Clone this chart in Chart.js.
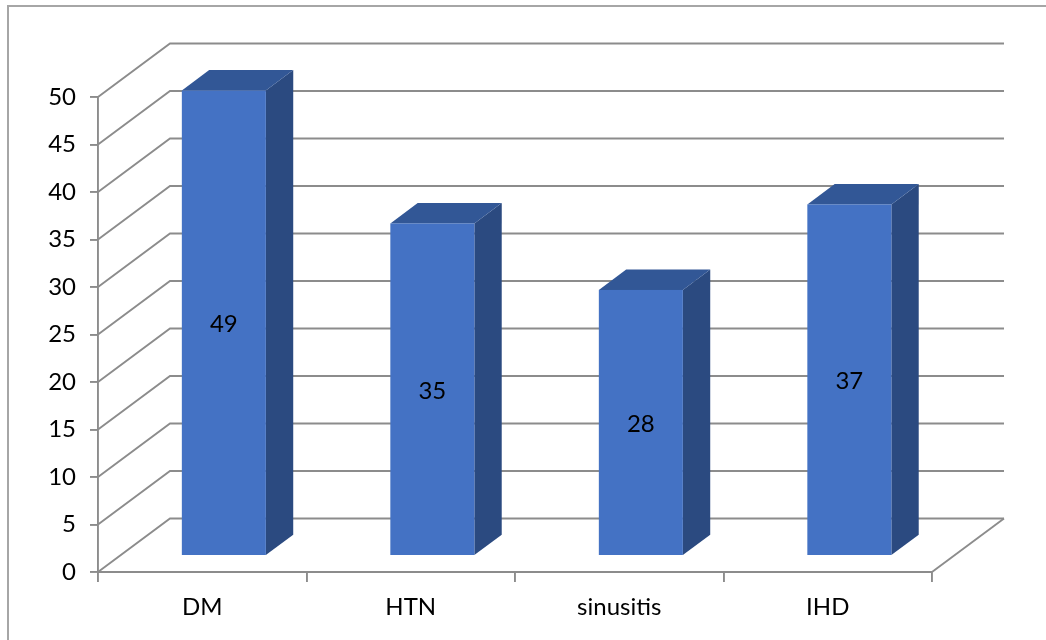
<!DOCTYPE html>
<html>
<head>
<meta charset="utf-8">
<script src="https://cdn.jsdelivr.net/npm/chart.js@4"></script>
<style>
    body { margin: 0; background: #fff; }
    #wrap { position: relative; width: 1046px; height: 640px; }
    #frame { position: absolute; left: 7px; top: 5px; width: 1100px; height: 700px;
             border-left: 2px solid #a6a6a6; border-top: 2px solid #a6a6a6; }
</style>
</head>
<body>
<div id="wrap">
    <div id="frame"></div>
    <canvas id="chart" width="1046" height="640"></canvas>
</div>
<script>
// 데이터
const categories = ['DM', 'HTN', 'sinusitis', 'IHD'];
const counts = [49, 35, 28, 37];
const yTicks = [0, 5, 10, 15, 20, 25, 30, 35, 40, 45, 50];

// 3D 깊이 (벽/바닥)
const DEPTH_X = 72;
const DEPTH_Y = -53.5;
const BAR_FRONT = 0.3;   // 막대 앞면 위치 (깊이 비율)
const BAR_DEPTH = 0.38;  // 막대 두께 (깊이 비율)

const gridColor = '#8c8c8c';
const fontFamily = 'Lato, "Open Sans", sans-serif';
const fontSize = 24;

// 벽, 바닥 그리기
const wallPlugin = {
    id: 'walls',
    beforeDatasetsDraw(chart) {
        const ctx = chart.ctx;
        const area = chart.chartArea;
        const yScale = chart.scales.y;
        ctx.save();
        ctx.strokeStyle = gridColor;
        ctx.lineWidth = 1.9;
        yTicks.forEach(v => {
            const y = yScale.getPixelForValue(v);
            ctx.beginPath();
            ctx.moveTo(area.left, y);
            ctx.lineTo(area.left + DEPTH_X, y + DEPTH_Y);
            ctx.lineTo(area.right + DEPTH_X, y + DEPTH_Y);
            ctx.stroke();
        });
        // 바닥 오른쪽 모서리
        ctx.beginPath();
        ctx.moveTo(area.right, area.bottom);
        ctx.lineTo(area.right + DEPTH_X, area.bottom + DEPTH_Y);
        ctx.stroke();
        ctx.restore();
    }
};

// 3D 막대 그리기
const barPlugin = {
    id: 'bars3d',
    afterDatasetsDraw(chart) {
        const ctx = chart.ctx;
        const meta = chart.getDatasetMeta(0);
        const fx = DEPTH_X * BAR_FRONT, fy = DEPTH_Y * BAR_FRONT;
        const bx = DEPTH_X * BAR_DEPTH, by = DEPTH_Y * BAR_DEPTH;
        ctx.save();
        meta.data.forEach((bar, i) => {
            const l = bar.x - bar.width / 2 + fx;
            const r = bar.x + bar.width / 2 + fx;
            const t = bar.y + fy;
            const b = bar.base + fy;

            // 옆면
            ctx.fillStyle = '#2b4a80';
            ctx.beginPath();
            ctx.moveTo(r, t);
            ctx.lineTo(r + bx, t + by);
            ctx.lineTo(r + bx, b + by);
            ctx.lineTo(r, b);
            ctx.closePath();
            ctx.fill();

            // 윗면
            ctx.fillStyle = '#325796';
            ctx.beginPath();
            ctx.moveTo(l, t);
            ctx.lineTo(l + bx, t + by);
            ctx.lineTo(r + bx, t + by);
            ctx.lineTo(r, t);
            ctx.closePath();
            ctx.fill();

            // 앞면
            ctx.fillStyle = '#4472c4';
            ctx.fillRect(l, t, r - l, b - t);

            // 값 라벨
            ctx.fillStyle = '#000';
            ctx.font = fontSize + 'px ' + fontFamily;
            ctx.textAlign = 'center';
            ctx.textBaseline = 'middle';
            ctx.fillText(String(counts[i]), (l + r) / 2, (t + b) / 2 + 2);
        });
        ctx.restore();
    }
};

new Chart(document.getElementById('chart'), {
    type: 'bar',
    data: {
        labels: categories,
        datasets: [{
            data: counts,
            backgroundColor: 'rgba(0,0,0,0)',
            categoryPercentage: 1,
            barPercentage: 0.403
        }]
    },
    options: {
        responsive: false,
        animation: false,
        layout: { padding: { top: 97, right: 114, left: 0, bottom: 0 } },
        plugins: {
            legend: { display: false },
            tooltip: { enabled: false }
        },
        scales: {
            x: {
                grid: { drawOnChartArea: false, offset: true, tickLength: 10, color: gridColor, lineWidth: 1.9 },
                border: { color: gridColor, width: 1.9 },
                ticks: { color: '#000', font: { family: fontFamily, size: fontSize }, padding: 11 },
                afterFit(scale) { scale.height = 68; }
            },
            y: {
                min: 0,
                max: 50,
                afterBuildTicks(scale) { scale.ticks = yTicks.map(v => ({ value: v })); },
                grid: { drawOnChartArea: false, tickLength: 8, color: gridColor, lineWidth: 1.9 },
                border: { color: gridColor, width: 1.9 },
                ticks: { color: '#000', font: { family: fontFamily, size: fontSize }, padding: 14 },
                afterFit(scale) { scale.width = 98; }
            }
        }
    },
    plugins: [wallPlugin, barPlugin]
});
</script>
</body>
</html>
